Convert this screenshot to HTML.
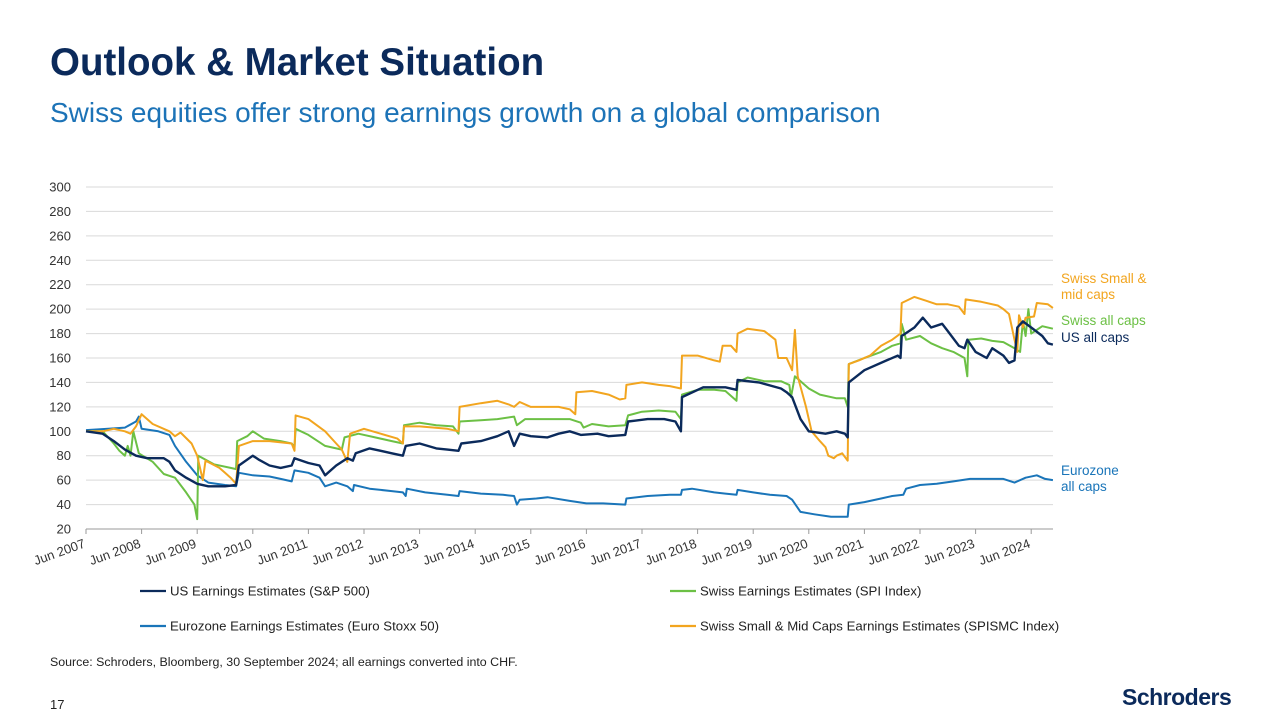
<!DOCTYPE html>
<html><head><meta charset="utf-8"><style>
body{margin:0;width:1280px;height:720px;background:#fff;font-family:"Liberation Sans",sans-serif;overflow:hidden;position:relative}
.t{position:absolute;white-space:nowrap}
</style></head><body>
<div class="t" style="left:50px;top:41px;font-size:38.5px;font-weight:bold;color:#0b2a5b">Outlook &amp; Market Situation</div>
<div class="t" style="left:50px;top:97px;font-size:28px;color:#1c73b7">Swiss equities offer strong earnings growth on a global comparison</div>
<svg id="chart" width="1280" height="720" style="position:absolute;left:0;top:0" font-family="Liberation Sans, sans-serif"></svg>
<div class="t" style="left:50px;top:655px;font-size:12.4px;color:#222">Source: Schroders, Bloomberg, 30 September 2024; all earnings converted into CHF.</div>
<div class="t" style="left:50px;top:697px;font-size:13px;color:#222">17</div>
<div class="t" style="left:1122px;top:684px;font-size:23px;font-weight:bold;color:#0b2a5b;letter-spacing:-0.5px">Schroders</div>
<script>
const yTicks=[20,40,60,80,100,120,140,160,180,200,220,240,260,280,300];
const xTickLabels=["Jun 2007","Jun 2008","Jun 2009","Jun 2010","Jun 2011","Jun 2012","Jun 2013","Jun 2014","Jun 2015","Jun 2016","Jun 2017","Jun 2018","Jun 2019","Jun 2020","Jun 2021","Jun 2022","Jun 2023","Jun 2024"];
const usT=[2007.5,2007.8,2008.0,2008.2,2008.4,2008.6,2008.9,2009.0,2009.1,2009.3,2009.5,2009.7,2010.0,2010.2,2010.25,2010.5,2010.6,2010.8,2011.0,2011.2,2011.25,2011.5,2011.7,2011.8,2012.0,2012.2,2012.3,2012.35,2012.6,2012.8,2013.0,2013.2,2013.25,2013.5,2013.8,2014.0,2014.2,2014.25,2014.6,2014.9,2015.1,2015.2,2015.3,2015.5,2015.8,2016.0,2016.2,2016.4,2016.7,2016.9,2017.2,2017.25,2017.6,2017.9,2018.1,2018.2,2018.22,2018.6,2019.0,2019.2,2019.22,2019.6,2020.0,2020.1,2020.2,2020.35,2020.5,2020.8,2021.0,2021.15,2021.2,2021.22,2021.5,2021.9,2022.1,2022.15,2022.17,2022.4,2022.55,2022.7,2022.9,2023.0,2023.2,2023.3,2023.35,2023.5,2023.7,2023.8,2024.0,2024.1,2024.2,2024.25,2024.35,2024.5,2024.7,2024.8,2024.89];
const usV=[100,98,92,85,80,78,78,75,68,62,57,55,55,56,72,80,77,72,70,72,78,74,72,64,72,78,76,82,86,84,82,80,88,90,86,85,84,90,92,96,100,88,98,96,95,98,100,97,98,96,97,108,110,110,108,100,128,136,136,134,142,140,135,132,128,110,100,98,100,98,95,140,150,158,162,160,178,185,193,185,188,182,170,168,175,165,160,168,162,156,158,185,190,185,178,172,171];
const chT=[2007.5,2007.8,2008.0,2008.1,2008.2,2008.25,2008.3,2008.35,2008.45,2008.7,2008.9,2009.1,2009.3,2009.45,2009.5,2009.52,2009.8,2010.1,2010.2,2010.22,2010.4,2010.5,2010.7,2011.0,2011.2,2011.25,2011.27,2011.5,2011.8,2012.0,2012.1,2012.15,2012.4,2012.7,2013.0,2013.2,2013.22,2013.5,2013.8,2014.1,2014.2,2014.22,2014.6,2014.9,2015.2,2015.25,2015.4,2015.8,2016.2,2016.4,2016.45,2016.6,2016.9,2017.2,2017.25,2017.5,2017.8,2018.1,2018.2,2018.22,2018.5,2018.8,2019.0,2019.2,2019.22,2019.4,2019.7,2020.0,2020.15,2020.18,2020.25,2020.5,2020.7,2021.0,2021.15,2021.2,2021.22,2021.5,2021.8,2022.0,2022.15,2022.17,2022.25,2022.5,2022.7,2022.9,2023.1,2023.3,2023.35,2023.37,2023.6,2023.8,2024.0,2024.2,2024.3,2024.35,2024.4,2024.45,2024.5,2024.7,2024.89];
const chV=[100,100,90,84,80,88,80,100,82,75,65,62,50,40,28,80,73,70,69,92,96,100,94,92,90,87,102,97,88,86,85,95,98,95,92,90,105,107,105,104,98,108,109,110,112,105,110,110,110,107,103,106,104,105,113,116,117,116,110,130,134,134,133,125,140,144,141,141,138,128,145,135,130,127,127,120,155,160,165,170,172,188,175,178,172,168,165,160,145,175,176,174,173,168,165,190,178,200,180,186,184];
const smT=[2007.5,2007.8,2008.0,2008.2,2008.3,2008.4,2008.5,2008.7,2009.0,2009.1,2009.2,2009.4,2009.5,2009.6,2009.65,2009.9,2010.0,2010.1,2010.2,2010.25,2010.5,2010.8,2011.2,2011.25,2011.27,2011.5,2011.8,2012.0,2012.1,2012.2,2012.25,2012.5,2012.8,2013.1,2013.2,2013.22,2013.5,2014.0,2014.2,2014.22,2014.6,2014.9,2015.1,2015.2,2015.3,2015.5,2016.0,2016.2,2016.3,2016.32,2016.6,2016.9,2017.1,2017.2,2017.22,2017.5,2017.8,2018.0,2018.2,2018.22,2018.5,2018.8,2018.9,2018.95,2019.1,2019.2,2019.22,2019.4,2019.7,2019.9,2019.95,2020.1,2020.2,2020.25,2020.3,2020.45,2020.55,2020.7,2020.8,2020.85,2020.95,2021.0,2021.1,2021.2,2021.22,2021.4,2021.6,2021.8,2022.0,2022.15,2022.17,2022.4,2022.6,2022.8,2023.0,2023.2,2023.3,2023.32,2023.6,2023.9,2024.0,2024.1,2024.2,2024.25,2024.28,2024.35,2024.4,2024.55,2024.6,2024.8,2024.89];
const smV=[100,100,102,100,98,104,114,106,100,96,99,90,80,60,76,70,66,62,57,88,92,92,90,84,113,110,100,90,85,75,98,102,98,94,90,104,104,102,100,120,123,125,122,120,124,120,120,118,114,132,133,130,126,127,138,140,138,137,135,162,162,158,157,170,170,165,180,184,182,175,160,160,150,183,145,120,100,92,87,80,78,80,82,76,155,158,162,170,175,180,205,210,207,204,204,202,196,208,206,203,200,196,175,165,195,185,193,194,205,204,201];
const ezT=[2007.5,2007.9,2008.2,2008.4,2008.45,2008.5,2008.8,2009.0,2009.1,2009.3,2009.5,2009.7,2010.0,2010.2,2010.25,2010.5,2010.8,2011.0,2011.2,2011.25,2011.5,2011.7,2011.8,2012.0,2012.2,2012.3,2012.32,2012.6,2013.0,2013.2,2013.25,2013.27,2013.6,2014.0,2014.2,2014.22,2014.6,2015.0,2015.2,2015.25,2015.3,2015.6,2015.8,2016.2,2016.5,2016.8,2017.2,2017.22,2017.6,2018.0,2018.2,2018.22,2018.4,2018.8,2019.0,2019.2,2019.22,2019.5,2019.8,2020.1,2020.2,2020.35,2020.6,2020.9,2021.2,2021.22,2021.5,2021.8,2022.0,2022.2,2022.25,2022.5,2022.8,2023.1,2023.4,2023.7,2024.0,2024.2,2024.4,2024.6,2024.75,2024.89];
const ezV=[101,102,103,108,112,102,100,97,88,75,64,58,56,55,66,64,63,61,59,68,66,62,55,58,55,51,56,53,51,50,47,53,50,48,47,51,49,48,47,40,44,45,46,43,41,41,40,45,47,48,48,52,53,50,49,48,52,50,48,47,44,34,32,30,30,40,42,45,47,48,53,56,57,59,61,61,61,58,62,64,61,60];

const svg=document.getElementById('chart');
const NS='http://www.w3.org/2000/svg';
const X0=86,DX=55.6,Y0=529,YS=342/280;
const xs=t=>X0+(t-2007.5)*DX;
const ys=v=>Y0-(v-20)*YS;
function mk(tag,attrs,txt){const e=document.createElementNS(NS,tag);for(const k in attrs)e.setAttribute(k,attrs[k]);if(txt!==undefined)e.textContent=txt;svg.appendChild(e);return e;}
yTicks.forEach(v=>{
  if(v>20){const g=mk('line',{x1:X0,x2:1053,y1:ys(v),y2:ys(v),stroke:'#d9d9d9','stroke-width':1});
  
  }
  const l=mk('text',{x:71,y:ys(v)+4.5,'text-anchor':'end','font-size':13,fill:'#333'},v);
  
  
});
const ax=mk('line',{x1:X0,x2:1053,y1:Y0,y2:Y0,stroke:'#9a9a9a','stroke-width':1});


xTickLabels.forEach((s,i)=>{
  const x=xs(2007.5+i);
  const tk=mk('line',{x1:x,x2:x,y1:Y0,y2:Y0+5,stroke:'#9a9a9a'});
  
  
  const l=mk('text',{x:x,y:Y0+18,'text-anchor':'end','font-size':13,fill:'#333',transform:`rotate(-20 ${x} ${Y0+18})`},s);
  
  
});
function series(T,V,col,name,w){
  const d=T.map((t,i)=>(i?'L':'M')+xs(t).toFixed(1)+','+ys(V[i]).toFixed(1)).join('');
  const p=mk('path',{d:d,fill:'none',stroke:col,'stroke-width':w,'stroke-linejoin':'round'});
  
  
}
series(ezT,ezV,'#1a75b9','eurozone-line',2);
series(chT,chV,'#6cc045','swiss-spi-line',2);
series(smT,smV,'#f2a51f','swiss-small-mid-line',2);
series(usT,usV,'#0b2a5b','us-line',2.4);
const labs=[["Swiss Small &",1061,283,'#f2a51f'],["mid caps",1061,299,'#f2a51f'],["Swiss all caps",1061,325,'#6cc045'],["US all caps",1061,342,'#0b2a5b'],["Eurozone",1061,475,'#1a75b9'],["all caps",1061,491,'#1a75b9']];
labs.forEach(a=>{const l=mk('text',{x:a[1],y:a[2],'font-size':13.5,fill:a[3]},a[0]);
  
  });
const leg=[["US Earnings Estimates (S&P 500)",140,591,'#0b2a5b'],["Swiss Earnings Estimates (SPI Index)",670,591,'#6cc045'],["Eurozone Earnings Estimates (Euro Stoxx 50)",140,626,'#1a75b9'],["Swiss Small & Mid Caps Earnings Estimates (SPISMC Index)",670,626,'#f2a51f']];
leg.forEach(a=>{
  const ln=mk('line',{x1:a[1],x2:a[1]+26,y1:a[2],y2:a[2],stroke:a[3],'stroke-width':2.2});
  
  
  const t=mk('text',{x:a[1]+30,y:a[2]+4.5,'font-size':13.2,fill:'#222'},a[0]);
  
  
});
</script>
</body></html>
